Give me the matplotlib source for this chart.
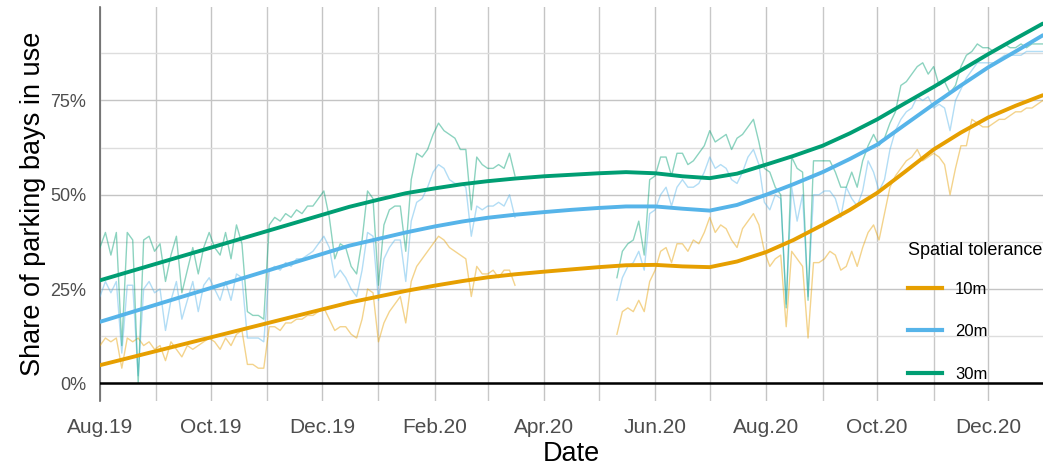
import numpy as np
import pandas as pd
import matplotlib
matplotlib.use('Agg')
import matplotlib.pyplot as plt
import matplotlib.dates as mdates
from matplotlib.lines import Line2D

plt.rcParams['font.family'] = ['Liberation Sans', 'DejaVu Sans']

# daily shares (sampled every 3 days), before the gap
start1 = '2019-08-01'
green1 = [36, 40, 34, 40, 10, 40, 38, 0, 38, 39, 35,
          37, 27, 34, 39, 24, 30, 36, 29, 36, 40,
          36, 34, 40, 33, 42, 37, 19, 18, 18, 17, 42,
          44, 43, 45, 44, 46, 45, 47, 47, 49,
          51, 44, 33, 37, 36, 31, 29, 38, 51, 49, 26, 42, 46, 47, 47, 35, 54, 61, 60, 62, 66, 69, 67, 66, 65,
          62, 62, 46, 60, 58, 57, 57, 58, 57, 61, 55]
blue1 = [23, 27, 24, 27, 8, 26, 26, 2, 25, 27, 24,
         25, 14, 22, 27, 17, 22, 27, 19, 26, 28,
         25, 22, 27, 22, 29, 28, 12, 12, 12, 11, 30,
         31, 30, 32, 31, 33, 33, 34, 35, 37,
         39, 36, 28, 30, 28, 25, 23, 30, 40, 39, 22, 33, 36, 38, 38, 27, 43, 48, 49, 52, 56, 58, 57, 54, 53,
         53, 52, 39, 47, 46, 47, 47, 48, 47, 50, 44]
orange1 = [10, 12, 11, 12, 4, 12, 11, 12, 10, 11, 9,
           10, 6, 11, 9, 7, 10, 9, 10, 11, 12,
           11, 9, 12, 10, 13, 14, 5, 5, 4, 4, 15,
           15, 14, 16, 16, 17, 17, 18, 18, 19,
           20, 17, 14, 15, 15, 13, 12, 17, 25, 24, 11, 16, 19, 21, 23, 16, 27, 31, 33, 35, 37, 39, 38, 36, 35,
           34, 33, 23, 31, 29, 29, 30, 28, 30, 30, 26]

# after the gap
start2 = '2020-05-11'
green2 = [28, 35, 37, 38, 43, 34, 54, 55, 60, 60, 55, 61, 61, 58, 59, 61, 63, 67, 64, 65, 66,
          62, 65, 66, 68, 70, 64, 57, 56, 52, 50, 20, 60, 57, 56, 22, 59, 59, 59, 59, 56, 52,
          52, 56, 52, 59, 63, 66, 63, 65, 69, 72, 79, 80, 82, 84, 85, 82, 84, 79, 80, 77,
          79, 84, 87, 88, 90, 89, 89, 88, 89, 90, 89, 89, 90, 89, 90, 90, 90]
blue2 = [22, 28, 31, 32, 35, 30, 45, 46, 50, 52, 47, 52, 54, 52, 52, 53, 56, 60, 57, 58, 57,
         54, 53, 56, 60, 62, 58, 48, 46, 50, 49, 21, 52, 43, 50, 23, 50, 50, 51, 51, 49, 44,
         52, 49, 47, 51, 59, 56, 51, 54, 62, 67, 70, 72, 73, 76, 75, 76, 73, 74, 73, 67,
         75, 78, 81, 83, 85, 85, 85, 85, 86, 87, 87, 87, 87, 88, 88, 88, 88]
orange2 = [13, 19, 20, 19, 22, 19, 27, 30, 35, 36, 32, 37, 37, 35, 38, 37, 40, 44, 40, 42, 41,
           38, 36, 41, 43, 45, 42, 35, 31, 33, 34, 15, 35, 33, 31, 12, 32, 32, 33, 35, 34, 30,
           31, 35, 31, 36, 40, 42, 38, 45, 52, 55, 57, 59, 60, 62, 59, 60, 61, 60, 58, 50,
           57, 63, 63, 70, 69, 68, 68, 69, 70, 70, 71, 72, 72, 73, 73, 74, 75]

# smoothed trends
trend_dates = ['2019-08-01', '2019-12-16', '2020-01-01', '2020-01-16', '2020-02-01', '2020-02-16',
               '2020-03-01', '2020-03-16', '2020-04-01', '2020-04-16', '2020-05-01', '2020-05-16',
               '2020-06-01', '2020-06-16', '2020-07-01', '2020-07-16', '2020-08-01', '2020-08-16',
               '2020-09-01', '2020-09-16', '2020-10-01', '2020-10-16', '2020-11-01', '2020-11-16',
               '2020-12-01', '2020-12-16', '2020-12-31']
green_tr = [27.3, 46.8, 48.7, 50.4, 51.7, 52.8, 53.6, 54.3, 54.9, 55.3, 55.7, 56.0,
            55.7, 54.9, 54.4, 55.6, 58.0, 60.3, 63.0, 66.3, 70.0, 74.2, 78.6, 83.0,
            87.3, 91.4, 95.4]
blue_tr = [16.3, 36.5, 38.3, 40.0, 41.6, 42.9, 43.9, 44.7, 45.4, 46.0, 46.5, 46.9,
           46.9, 46.3, 45.8, 47.3, 50.0, 52.8, 56.0, 59.5, 63.3, 68.5, 74.0, 79.0,
           83.8, 88.0, 92.3]
orange_tr = [4.8, 21.4, 23.0, 24.5, 25.9, 27.1, 28.1, 28.9, 29.6, 30.2, 30.8, 31.3,
             31.4, 31.0, 30.8, 32.3, 34.8, 38.0, 42.0, 46.0, 50.5, 56.0, 62.0, 66.5,
             70.5, 73.6, 76.4]

labels = ['10m', '20m', '30m']
colors = ['#E69F00', '#56B4E9', '#009E73']

fig = plt.figure(figsize=(10.5, 4.66), dpi=100)
ax = fig.add_axes([0.0952, 0.1395, 0.898, 0.8455])

d1 = pd.date_range(start1, periods=len(green1), freq='3D')
d2 = pd.date_range(start2, periods=len(green2), freq='3D')
td = pd.to_datetime(trend_dates)

raw = [(orange1, orange2), (blue1, blue2), (green1, green2)]
trends = [orange_tr, blue_tr, green_tr]

for (a, b), c in zip(raw, colors):
    ax.plot(d1, a, color=c, alpha=0.45, lw=1.0, zorder=3)
    ax.plot(d2, b, color=c, alpha=0.45, lw=1.0, zorder=3)

for t, c in zip(trends, colors):
    ax.plot(td, t, color=c, lw=2.8, zorder=4, solid_capstyle='round')

ax.axhline(0, color='black', lw=1.8, zorder=5)

ax.set_xlim(pd.Timestamp('2019-08-01'), pd.Timestamp('2020-12-31'))
ax.set_ylim(-4.7, 99.8)

ax.set_yticks([0, 25, 50, 75])
ax.set_yticks([12.5, 37.5, 62.5, 87.5], minor=True)
ax.set_yticklabels(['0%', '25%', '50%', '75%'])
ax.xaxis.set_major_locator(mdates.MonthLocator(bymonth=[2, 4, 6, 8, 10, 12]))
ax.xaxis.set_minor_locator(mdates.MonthLocator())
ax.xaxis.set_major_formatter(mdates.DateFormatter('%b.%y'))

ax.grid(True, which='major', color='#c4c4c4', lw=1.0, zorder=0)
ax.grid(True, which='minor', axis='y', color='#dddddd', lw=1.0, zorder=0)
ax.grid(True, which='minor', axis='x', color='#c8c8c8', lw=1.0, zorder=0)
ax.set_axisbelow(True)

for s in ['top', 'right', 'bottom']:
    ax.spines[s].set_visible(False)
ax.spines['left'].set_color('#666666')
ax.spines['left'].set_linewidth(1.2)

ax.tick_params(which='both', length=0)
ax.tick_params(axis='x', labelsize=15, labelcolor='#4d4d4d', pad=12)
ax.tick_params(axis='y', labelsize=13, labelcolor='#4d4d4d', pad=10)

ax.set_xlabel('Date', fontsize=19.5, labelpad=3)
ax.set_ylabel('Share of parking bays in use', fontsize=19.5, labelpad=3)

handles = [Line2D([], [], color=c, lw=3) for c in colors]
leg = ax.legend(handles, labels, title='Spatial tolerance', frameon=False,
                loc='upper left', bbox_to_anchor=(900 / 1050, 1 - 234 / 466),
                bbox_transform=fig.transFigure, fontsize=12, title_fontsize=13,
                handlelength=2.0, labelspacing=1.66, handletextpad=0.8,
                borderpad=0, alignment='left')
# tighter gap between the title and the first entry
leg._legend_box.sep = 16

fig.savefig('out.png', dpi=100)
